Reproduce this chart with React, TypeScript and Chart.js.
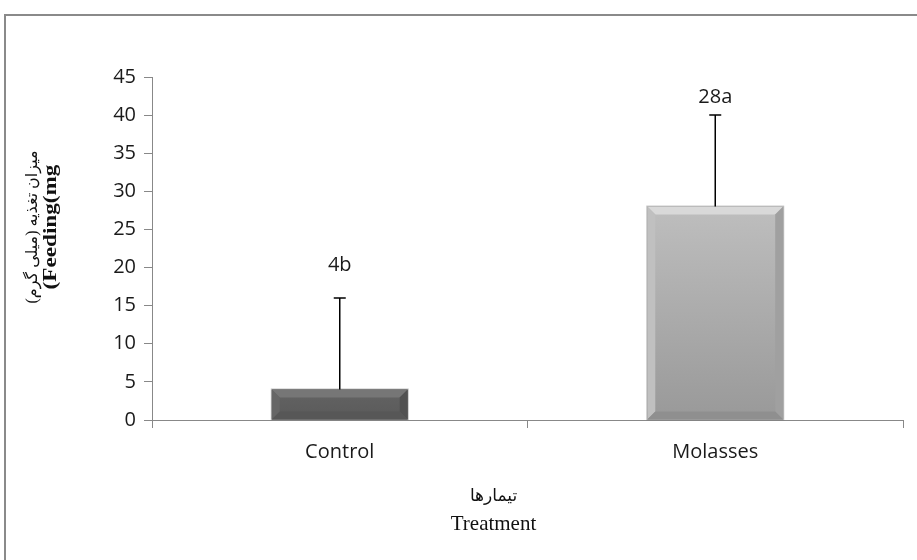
import { useEffect, useRef } from "react";
import { Chart, registerables } from "chart.js";

Chart.register(...registerables);

const categories = ["Control", "Molasses"];
const feeding = [4, 28];
const errorPlus = [12, 12];
const letters = ["4b", "28a"];
const letterAt = [20.3, 42.4];
const yMin = 0;
const yMax = 45;
const yStep = 5;
const yTitle = ["میزان تغذیه (میلی گرم)", "(Feeding(mg"];
const xTitle = ["تیمارها", "Treatment"];

const barBody = ["#5e5e5e", "#b4b4b4"];
const barBodyTop = ["#636363", "#bebebe"];
const barBodyBottom = ["#5a5a5a", "#999999"];
const bevelTop = ["#767676", "#d9d9d9"];
const bevelLeft = ["#666666", "#c0c0c0"];
const bevelRight = ["#525252", "#a0a0a0"];
const bevelBottom = ["#575757", "#8f8f8f"];

const tickFont = "'Open Sans', Lato, sans-serif";
const serifFont = "'Liberation Serif', 'DejaVu Serif', 'DejaVu Sans', serif";

const decorPlugin = {
  id: "decor",
  beforeDraw(chart: any) {
    const ctx = chart.ctx;
    ctx.save();
    ctx.strokeStyle = "#8a8a8a";
    ctx.lineWidth = 2;
    ctx.strokeRect(5, 15, 1200, 1200);
    ctx.restore();
  },
  afterDatasetsDraw(chart: any) {
    const ctx = chart.ctx;
    const meta = chart.getDatasetMeta(0);
    const yScale = chart.scales.y;
    meta.data.forEach((el: any, i: number) => {
      const w = el.width;
      const l = el.x - w / 2;
      const r = el.x + w / 2;
      const t = Math.min(el.y, el.base);
      const b = Math.max(el.y, el.base);
      const bv = Math.min(8, (b - t) / 2);
      ctx.save();
      const g = ctx.createLinearGradient(0, t, 0, b);
      g.addColorStop(0, barBodyTop[i]);
      g.addColorStop(1, barBodyBottom[i]);
      ctx.fillStyle = g;
      ctx.fillRect(l, t, w, b - t);
      const poly = (pts: number[][], c: string) => {
        ctx.beginPath();
        ctx.moveTo(pts[0][0], pts[0][1]);
        for (let k = 1; k < pts.length; k++) ctx.lineTo(pts[k][0], pts[k][1]);
        ctx.closePath();
        ctx.fillStyle = c;
        ctx.fill();
      };
      poly([[l, t], [r, t], [r - bv, t + bv], [l + bv, t + bv]], bevelTop[i]);
      poly([[l, t], [l + bv, t + bv], [l + bv, b - bv], [l, b]], bevelLeft[i]);
      poly([[r, t], [r - bv, t + bv], [r - bv, b - bv], [r, b]], bevelRight[i]);
      poly([[l, b], [l + bv, b - bv], [r - bv, b - bv], [r, b]], bevelBottom[i]);
      ctx.strokeStyle = "rgba(120,120,120,0.45)";
      ctx.lineWidth = 1;
      ctx.strokeRect(l - 0.5, t - 0.5, w + 1, b - t + 1);

      // error bar
      const yTop = yScale.getPixelForValue(feeding[i] + errorPlus[i]);
      ctx.strokeStyle = "#000";
      ctx.lineWidth = 1.5;
      ctx.beginPath();
      ctx.moveTo(el.x, t);
      ctx.lineTo(el.x, yTop);
      ctx.moveTo(el.x - 6, yTop);
      ctx.lineTo(el.x + 6, yTop);
      ctx.stroke();

      // letter label
      ctx.fillStyle = "#1a1a1a";
      ctx.font = `20px ${tickFont}`;
      ctx.textAlign = "center";
      ctx.textBaseline = "middle";
      ctx.fillText(letters[i], el.x, yScale.getPixelForValue(letterAt[i]));
      ctx.restore();
    });
  },
  afterDraw(chart: any) {
    const ctx = chart.ctx;
    ctx.save();
    ctx.fillStyle = "#111";
    ctx.textAlign = "center";
    ctx.textBaseline = "middle";
    // y title
    ctx.save();
    ctx.translate(33, 227);
    ctx.rotate(-Math.PI / 2);
    ctx.direction = "rtl";
    ctx.font = `16px ${serifFont}`;
    ctx.fillText(yTitle[0], 0, 0);
    ctx.restore();
    ctx.save();
    ctx.translate(51, 227);
    ctx.rotate(-Math.PI / 2);
    ctx.scale(1.22, 1);
    ctx.font = `bold 19px ${serifFont}`;
    ctx.fillText(yTitle[1], 0, 0);
    ctx.restore();
    // x title
    const cx = (chart.chartArea.left + chart.chartArea.right) / 2 - 34;
    ctx.save();
    ctx.direction = "rtl";
    ctx.font = `17px ${serifFont}`;
    ctx.fillText(xTitle[0], cx, 497);
    ctx.restore();
    ctx.font = `21px ${serifFont}`;
    ctx.fillText(xTitle[1], cx, 524);
    ctx.restore();
  },
};

export default function App() {
  const ref = useRef<HTMLCanvasElement | null>(null);
  useEffect(() => {
    if (!ref.current) return;
    const chart = new Chart(ref.current, {
      type: "bar",
      data: {
        labels: categories,
        datasets: [
          {
            data: feeding,
            backgroundColor: barBody,
            borderWidth: 0,
            barPercentage: 0.362,
            categoryPercentage: 1,
          },
        ],
      },
      options: {
        animation: false,
        responsive: false,
        maintainAspectRatio: false,
        layout: { padding: { top: 77, right: 14, left: 0, bottom: 0 } },
        plugins: {
          legend: { display: false },
          tooltip: { enabled: false },
          title: { display: false },
        },
        scales: {
          x: {
            afterFit: (s: any) => {
              s.height = 140;
            },
            grid: {
              display: true,
              drawOnChartArea: false,
              drawTicks: true,
              tickLength: 8,
              color: "#888",
              offset: true,
            },
            border: { display: true, color: "#888", width: 1 },
            ticks: {
              color: "#1a1a1a",
              font: { family: tickFont, size: 20 },
              padding: 12,
            },
          },
          y: {
            min: yMin,
            max: yMax,
            afterFit: (s: any) => {
              s.width = 152;
            },
            grid: {
              display: true,
              drawOnChartArea: false,
              drawTicks: true,
              tickLength: 8,
              color: "#888",
            },
            border: { display: true, color: "#888", width: 1 },
            ticks: {
              stepSize: yStep,
              color: "#1a1a1a",
              font: { family: tickFont, size: 20 },
              padding: 8,
            },
          },
        },
      },
      plugins: [decorPlugin],
    });
    return () => chart.destroy();
  }, []);
  return (
    <div style={{ position: "fixed", left: 0, top: 0, width: 917, height: 560, background: "#fff" }}>
      <canvas ref={ref} width={917} height={560} style={{ width: 917, height: 560, display: "block" }} />
    </div>
  );
}
